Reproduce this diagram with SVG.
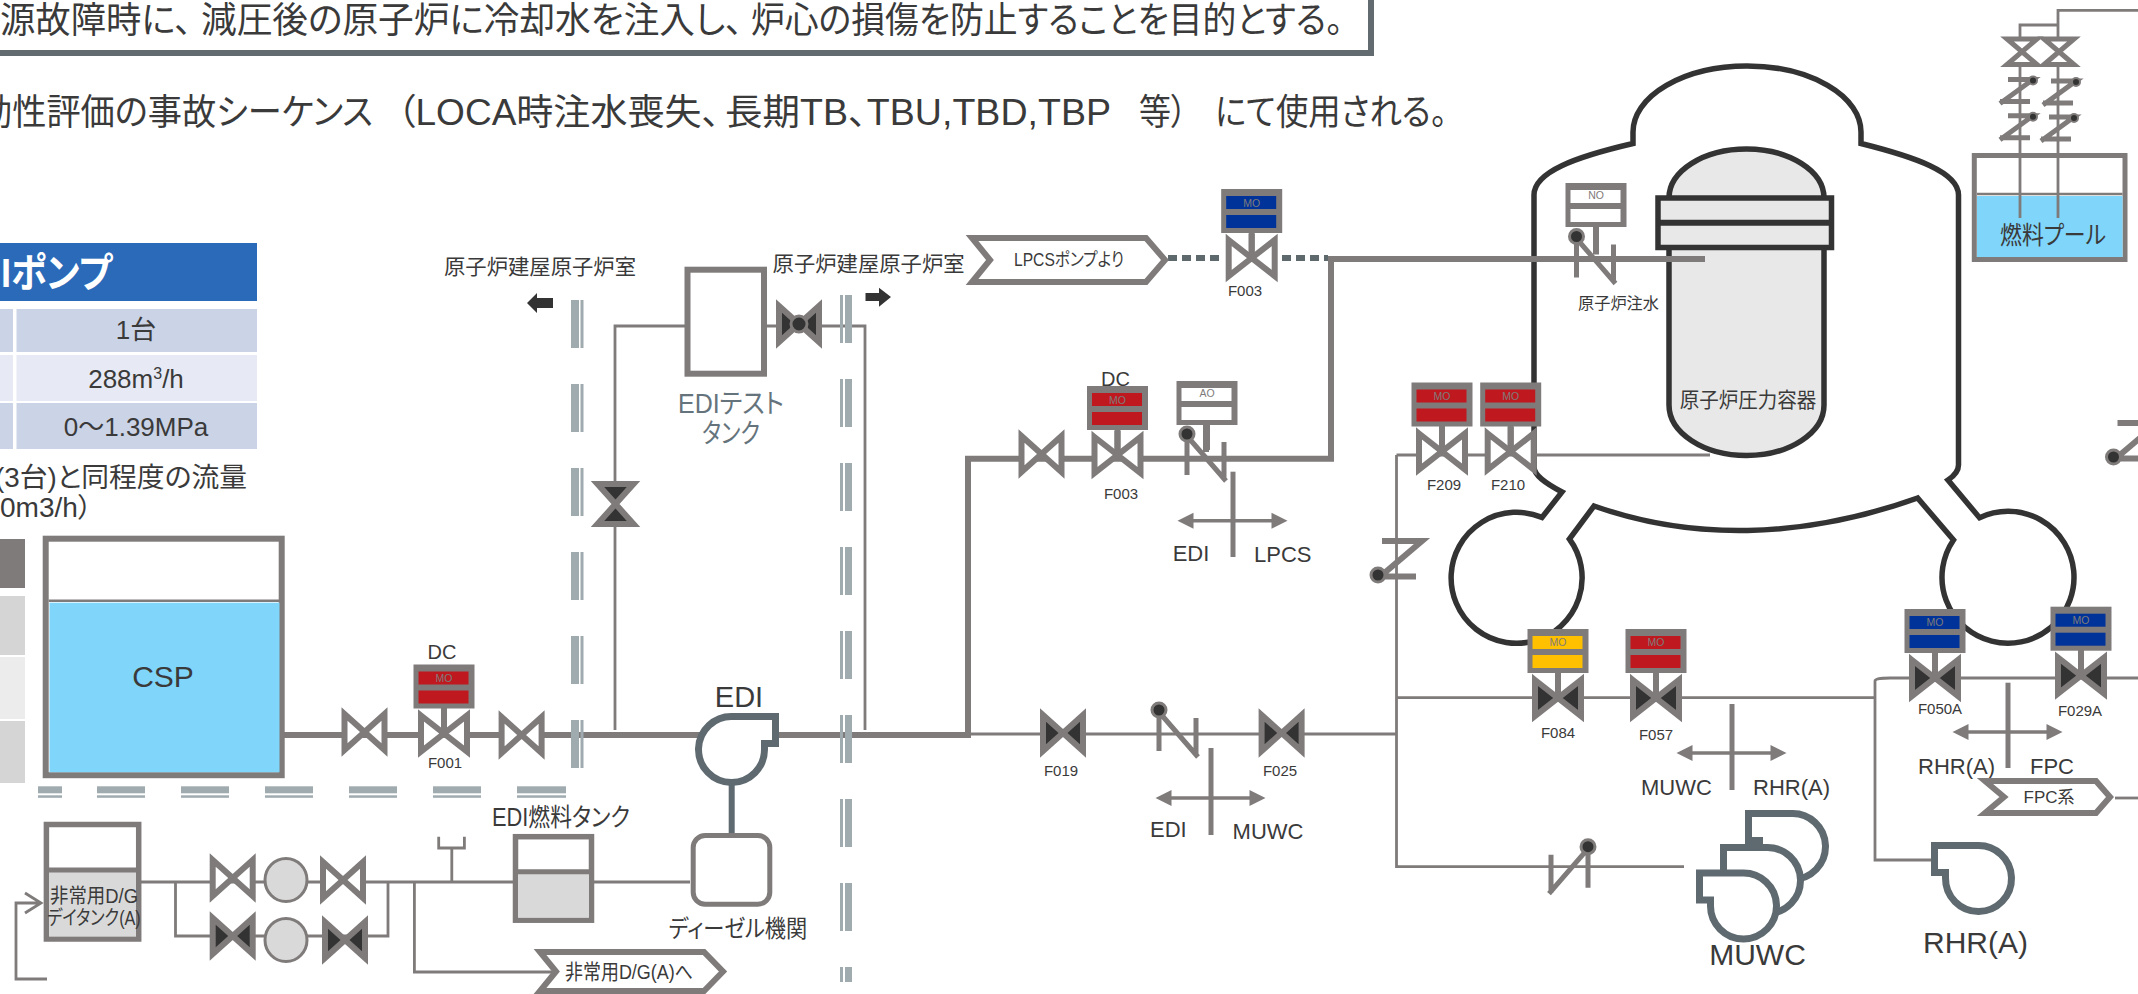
<svg xmlns="http://www.w3.org/2000/svg" width="2138" height="994" viewBox="0 0 2138 994">
<style>
text{font-family:"Liberation Sans","Noto Sans CJK JP",sans-serif;fill:#3a3a3a;font-feature-settings:"palt"}
.m{text-anchor:middle}
.p1{fill:none;stroke:#7f7b7a;stroke-width:6}
.p2{fill:none;stroke:#7f7b7a;stroke-width:2.8}
.tag{font-size:15px;text-anchor:middle}
.mo{font-size:10.5px;text-anchor:middle;fill:#7f7b7a}
.lab{font-size:22px}
.w{fill:#a0abb0}
.vw{fill:#fff;stroke:#7f7b7a;stroke-width:6}
.vd{fill:#333;stroke:#7f7b7a;stroke-width:6}
.pump{fill:#fff;stroke:#5e6a70;stroke-width:7}
.ves{stroke:#333;stroke-width:5.5}
.chev{fill:#fff;stroke:#7f7b7a;stroke-width:6}
.tank{fill:#fff;stroke:#7f7b7a;stroke-width:6}
.ck{fill:none;stroke:#7f7b7a;stroke-width:5}
.dot{fill:#333;stroke:#7f7b7a;stroke-width:3}
.arr{stroke:#7f7b7a;stroke-width:3.5;fill:none}
.arh{fill:#7f7b7a}
.bar{stroke:#7f7b7a;stroke-width:5}
</style>
<defs>
<path id="bowM" d="M-23,-18L23,18V-18L-23,18Z"/>
<path id="bowS" d="M-20,-18L20,18V-18L-20,18Z"/>
<g id="act"><rect x="-30.5" y="-69" width="61" height="44" fill="#7f7b7a"/><rect x="-25.5" y="-62" width="50" height="13"/><rect x="-25.5" y="-43" width="50" height="13"/><rect x="-3" y="-26" width="6" height="26" fill="#7f7b7a"/></g>
<path id="pumpR" d="M43.5,-32.5H1A33,33 0 1 0 32.5,0V-5.5H43.5Z"/>
<g id="nck"><path class="ck" d="M0,0V41M0,2L39,47M37,8V46"/><circle class="dot" cx="0" cy="0" r="7"/></g>
<g id="zv"><path class="ck" d="M4,-34H44L4,0M0,1.5H38" style="stroke-width:6"/><circle class="dot" cx="0" cy="0" r="7"/></g>
<g id="zs"><path class="ck" d="M-25,-1H0L-33,23M-33,21H-3" style="stroke-width:5"/><circle class="dot" cx="0" cy="0" r="4" style="stroke-width:2"/></g>
<path id="wv" class="w" d="M0,0h8v48h-8ZM9.5,0h3v48h-3Z"/>
<path id="wr" class="w" d="M0,0h3v48h-3ZM5,0h7v48h-7Z"/>
<path id="xh" class="arh" d="M-16,0L0,-8V8Z"/>
</defs>

<g id="header">
<rect x="-10" y="-10" width="1381" height="63" fill="#fff" stroke="#626b70" stroke-width="6"/>
<text y="33" font-size="36"><tspan x="0" textLength="192" lengthAdjust="spacingAndGlyphs">源故障時に、</tspan><tspan x="201" textLength="542" lengthAdjust="spacingAndGlyphs">減圧後の原子炉に冷却水を注入し、</tspan><tspan x="751" textLength="592" lengthAdjust="spacingAndGlyphs">炉心の損傷を防止することを目的とする。</tspan></text>
<text y="125" font-size="36"><tspan x="-22" textLength="395" lengthAdjust="spacingAndGlyphs">効性評価の事故シーケンス</tspan><tspan x="397" textLength="323" lengthAdjust="spacingAndGlyphs">（LOCA時注水喪失、</tspan><tspan x="725" textLength="386" lengthAdjust="spacingAndGlyphs">長期TB、TBU,TBD,TBP</tspan><tspan x="1139" textLength="48" lengthAdjust="spacingAndGlyphs">等）</tspan><tspan x="1215" textLength="232" lengthAdjust="spacingAndGlyphs">にて使用される。</tspan></text>
</g>

<g id="spec-table">
<rect x="0" y="243" width="257" height="58" fill="#2a6ab8"/>
<text x="1" y="287" font-size="40" font-weight="bold" style="fill:#fff" textLength="111" lengthAdjust="spacingAndGlyphs">Iポンプ</text>
<rect x="0" y="309" width="13" height="43" fill="#cbd3e6"/><rect x="16.5" y="309" width="240.5" height="43" fill="#cbd3e6"/>
<rect x="0" y="355" width="13" height="46" fill="#e7eaf4"/><rect x="16.5" y="355" width="240.5" height="46" fill="#e7eaf4"/>
<rect x="0" y="403" width="13" height="46" fill="#cbd3e6"/><rect x="16.5" y="403" width="240.5" height="46" fill="#cbd3e6"/>
<text x="136" y="339" font-size="26" class="m">1台</text>
<text x="136" y="388" font-size="26" class="m">288m<tspan font-size="16" dy="-9">3</tspan><tspan dy="9">/h</tspan></text>
<text x="136" y="436" font-size="26" class="m">0～1.39MPa</text>
<text x="-5" y="487" font-size="27" textLength="252" lengthAdjust="spacingAndGlyphs">(3台)と同程度の流量</text>
<text x="0" y="517" font-size="27" textLength="92" lengthAdjust="spacingAndGlyphs">0m3/h）</text>
<rect x="0" y="539" width="25" height="49" fill="#7f7b7a"/>
<rect x="0" y="596" width="25" height="59" fill="#d5d5d5"/>
<rect x="0" y="657" width="25" height="62" fill="#ececec"/>
<rect x="0" y="721" width="25" height="62" fill="#d5d5d5"/>
</g>

<g id="containment">
<path fill="#fff" class="ves" d="M1633,143.5V132A114,66 0 0 1 1861,132V143.5C1915,157 1958.5,172 1958.5,195V465C1958.5,472 1954,476 1948,480L1979.5,517.7A66,66 0 1 1 1953.5,540L1917.6,498C1800,540 1690,540 1594,506L1569.4,539A65.5,65.5 0 1 1 1542,517.4L1562,492C1545,483 1534,475 1534,467V195C1534,172 1575,157 1633,143.5Z"/>
<path fill="#e8e8e8" class="ves" d="M1669,198A77.5,49 0 0 1 1824,198V405A77.5,50.5 0 0 1 1669,405Z"/>
<rect x="1658" y="198" width="173.500" height="49.500" fill="#e8e8e8" stroke="#333" stroke-width="5.500"/>
<line x1="1658" y1="222.700" x2="1831" y2="222.700" stroke="#333" stroke-width="6"/>
<text x="1748" y="407" font-size="21" class="m" textLength="136.500" lengthAdjust="spacingAndGlyphs">原子炉圧力容器</text>
</g>

<g id="connectors">
<path class="p1" d="M284,735H968V458.700H1331V256"/>
<path class="p1" d="M1328,259H1705"/>
<path d="M1168,258H1222M1282,258H1328" fill="none" stroke="#5e696e" stroke-width="6" stroke-dasharray="9 5"/>
<path class="p2" d="M615,730V326H690M767,326H865V730"/>
<path class="p2" d="M968,734H1396.500M1396.500,455V866.700H1684M1396.500,697.700H1875M1396.500,455H1710"/>
<path class="p2" d="M1933,860H1875V681Q1875,678 1890,678H2138"/>
<path class="p2" d="M2115,798H2138"/>
<path class="p2" d="M141,882H690M175.500,882V936H388V882M414.400,882V972H552M451.800,882V848M438.700,836.700V848H464.400V836.700"/>
<path class="p2" d="M47,979H16V903H40M25,893L41,903L25,913"/>
<path class="p2" d="M2020,155V25H2058M2058,218V10.300H2138M2020,218V155"/>
<path d="M731.700,785V837" stroke="#5e6a70" stroke-width="6"/>
<path d="M1596,226V254.500M1206,425V452" stroke="#7f7b7a" stroke-width="6" fill="none"/>
</g>

<g id="walls">
<g id="wall-left"><use href="#wv" x="571" y="300"/><use href="#wv" x="571" y="384"/><use href="#wv" x="571" y="468"/><use href="#wv" x="571" y="552"/><use href="#wv" x="571" y="636"/><use href="#wv" x="571" y="720"/></g>
<g id="wall-right"><use href="#wr" x="840" y="295"/><use href="#wr" x="840" y="379"/><use href="#wr" x="840" y="463"/><use href="#wr" x="840" y="547"/><use href="#wr" x="840" y="631"/><use href="#wr" x="840" y="715"/><use href="#wr" x="840" y="799"/><use href="#wr" x="840" y="883"/><path class="w" d="M840,967h3v15h-3ZM845,967h7v15h-7Z"/></g>
<g id="wall-bottom" class="w"><rect x="38" y="786.300" width="24" height="7"/><rect x="38" y="795.300" width="24" height="2.500"/><rect x="97" y="786.300" width="48" height="7"/><rect x="97" y="795.300" width="48" height="2.500"/><rect x="181" y="786.300" width="48" height="7"/><rect x="181" y="795.300" width="48" height="2.500"/><rect x="265" y="786.300" width="48" height="7"/><rect x="265" y="795.300" width="48" height="2.500"/><rect x="349" y="786.300" width="48" height="7"/><rect x="349" y="795.300" width="48" height="2.500"/><rect x="433" y="786.300" width="48" height="7"/><rect x="433" y="795.300" width="48" height="2.500"/><rect x="517" y="786.300" width="49" height="7"/><rect x="517" y="795.300" width="49" height="2.500"/></g>
<path id="arrow-left" d="M527,303L537,293V298H553V308H537V313Z" fill="#333"/>
<path id="arrow-right" d="M891,297L879,287.700V293H865.500V301H879V306.700Z" fill="#333"/>
<text x="444" y="274" font-size="21" textLength="192" lengthAdjust="spacingAndGlyphs">原子炉建屋原子炉室</text>
<text x="772.600" y="271" font-size="21" textLength="192" lengthAdjust="spacingAndGlyphs">原子炉建屋原子炉室</text>
</g>

<g id="csp">
<rect x="45.700" y="538.700" width="236" height="236.500" class="tank"/>
<rect x="49.500" y="602.700" width="230" height="169.500" fill="#7fd5fa"/>
<line x1="48.700" y1="600.700" x2="279" y2="600.700" stroke="#7f7b7a" stroke-width="2.500"/>
<text x="163" y="687" font-size="30" class="m">CSP</text>
</g>

<g id="v-csp-1"><use href="#bowS" class="vw" transform="translate(364.500,732)"/></g>
<g id="v-f001"><use href="#act" fill="#c0181f" transform="translate(444,733.500)"/><use href="#bowM" class="vw" transform="translate(444,733.500)"/><path d="M444,709V733" stroke="#7f7b7a" stroke-width="6"/><text x="444" y="682" class="mo">MO</text><text x="442" y="659" font-size="20" class="m">DC</text><text x="445" y="768" class="tag">F001</text></g>
<g id="v-csp-2"><use href="#bowS" class="vw" transform="translate(521.600,735)"/></g>

<g id="edi-pump"><use href="#pumpR" class="pump" transform="translate(732,749)"/><text x="739" y="707" font-size="29" class="m">EDI</text></g>
<g id="diesel"><rect x="693.200" y="835.500" width="76.600" height="68.700" rx="12" fill="#fff" stroke="#7f7b7a" stroke-width="5"/><text x="738" y="937" font-size="24" class="m" textLength="138.500" lengthAdjust="spacingAndGlyphs">ディーゼル機関</text></g>

<g id="edi-test-tank"><rect x="687.500" y="269.700" width="76.500" height="104" class="tank"/><text x="731" y="413" font-size="27" class="m" style="fill:#65747c" textLength="106" lengthAdjust="spacingAndGlyphs">EDIテスト</text><text x="731" y="443" font-size="27" class="m" style="fill:#65747c" textLength="58" lengthAdjust="spacingAndGlyphs">タンク</text></g>
<g id="v-test-1"><use href="#bowS" class="vd" transform="translate(799,324)"/><circle cx="799" cy="324" r="8" class="dot"/></g>
<g id="v-test-2"><use href="#bowS" class="vd" transform="translate(615.500,504) rotate(90)"/></g>

<g id="day-tank"><rect x="46.400" y="824.500" width="92.300" height="114.500" fill="#fff" stroke="#7f7b7a" stroke-width="5.500"/><rect x="49" y="870" width="87" height="66.500" fill="#d9d9d9"/><line x1="46" y1="870" x2="139" y2="870" stroke="#7f7b7a" stroke-width="5"/><text x="94" y="903" font-size="20" class="m" textLength="88" lengthAdjust="spacingAndGlyphs">非常用D/G</text><text x="94" y="925" font-size="20" class="m" textLength="93.500" lengthAdjust="spacingAndGlyphs">デイタンク(A)</text></g>
<g id="fo-line-1"><use href="#bowS" class="vw" transform="translate(232.700,878)"/><ellipse cx="286" cy="880" rx="21" ry="21.500" fill="#d9d9d9" stroke="#7f7b7a" stroke-width="3"/><use href="#bowS" class="vw" transform="translate(343,880)"/></g>
<g id="fo-line-2"><use href="#bowS" class="vd" transform="translate(232.700,936)"/><ellipse cx="286" cy="940" rx="21" ry="21.500" fill="#d9d9d9" stroke="#7f7b7a" stroke-width="3"/><use href="#bowS" class="vd" transform="translate(345,940)"/></g>
<g id="fuel-tank"><rect x="515.500" y="836.700" width="76" height="83.500" fill="#fff" stroke="#7f7b7a" stroke-width="5.500"/><rect x="518" y="871.700" width="71" height="46" fill="#d9d9d9"/><line x1="515" y1="871.700" x2="592" y2="871.700" stroke="#7f7b7a" stroke-width="5"/><text x="561" y="826" font-size="25" class="m" textLength="138" lengthAdjust="spacingAndGlyphs">EDI燃料タンク</text></g>
<g id="to-dg"><path class="chev" d="M540,952H704L723,971.500L704,991H540L556,971.500Z"/><text x="629" y="979" font-size="21" class="m" textLength="128" lengthAdjust="spacingAndGlyphs">非常用D/G(A)へ</text></g>

<g id="from-lpcs"><path class="chev" d="M972,238H1146L1165,260L1146,282H972L990,260Z"/><text x="1069" y="266" font-size="18" class="m" textLength="110" lengthAdjust="spacingAndGlyphs">LPCSポンプより</text></g>
<g id="v-f003-top"><use href="#act" fill="#003399" transform="translate(1251.700,258)"/><use href="#bowM" class="vw" transform="translate(1251.700,258)"/><path d="M1251.700,234V258" stroke="#7f7b7a" stroke-width="6"/><text x="1251.700" y="207" class="mo">MO</text><text x="1245" y="296" class="tag">F003</text></g>
<g id="v-lpcs-1"><use href="#bowS" class="vw" transform="translate(1041.500,454)"/></g>
<g id="v-f003"><use href="#act" fill="#c0181f" transform="translate(1117.500,455)"/><use href="#bowM" class="vw" transform="translate(1117.500,455)"/><path d="M1117.500,431V455" stroke="#7f7b7a" stroke-width="6"/><text x="1117.500" y="404" class="mo">MO</text><text x="1115.500" y="386" font-size="20" class="m">DC</text><text x="1121" y="499" class="tag">F003</text></g>
<g id="v-ao"><use href="#act" fill="#fff" transform="translate(1207,450)"/><text x="1207" y="397" class="mo">AO</text><use href="#nck" transform="translate(1187,434)"/></g>
<g id="cross-lpcs"><line x1="1233" y1="471.700" x2="1233" y2="557" class="bar"/><path class="arr" d="M1190,520.700H1275"/><use href="#xh" transform="translate(1193.500,520.700)"/><use href="#xh" transform="translate(1271.500,520.700) scale(-1,1)"/><text x="1172.700" y="561" class="lab">EDI</text><text x="1254" y="561.500" class="lab">LPCS</text></g>

<g id="v-no"><use href="#act" fill="#fff" transform="translate(1596,252)"/><text x="1596" y="199" class="mo">NO</text><use href="#nck" transform="translate(1576.500,236.500)"/><text x="1618.500" y="309" font-size="16" class="m" textLength="81" lengthAdjust="spacingAndGlyphs">原子炉注水</text></g>
<g id="v-f209"><use href="#act" fill="#c0181f" transform="translate(1442,451.500)"/><use href="#bowM" class="vw" transform="translate(1442,451.500)"/><path d="M1442,427V451" stroke="#7f7b7a" stroke-width="6"/><text x="1442" y="400" class="mo">MO</text><text x="1444" y="490" class="tag">F209</text></g>
<g id="v-f210"><use href="#act" fill="#c0181f" transform="translate(1510.700,451.500)"/><use href="#bowM" class="vw" transform="translate(1510.700,451.500)"/><path d="M1510.700,427V451" stroke="#7f7b7a" stroke-width="6"/><text x="1510.700" y="400" class="mo">MO</text><text x="1508" y="490" class="tag">F210</text></g>
<g id="z-main"><use href="#zv" transform="translate(1378,575)"/></g>
<g id="z-right"><use href="#zv" transform="translate(2113.500,457)"/></g>

<g id="v-f019"><use href="#bowS" class="vd" transform="translate(1063,733)"/><text x="1061" y="776" class="tag">F019</text></g>
<g id="ck-edi"><use href="#nck" transform="translate(1159,710)"/></g>
<g id="v-f025"><use href="#bowS" class="vd" transform="translate(1281.600,733)"/><text x="1280" y="776" class="tag">F025</text></g>
<g id="cross-muwc"><line x1="1211" y1="748" x2="1211" y2="835" class="bar"/><path class="arr" d="M1168,798H1253"/><use href="#xh" transform="translate(1171.500,798)"/><use href="#xh" transform="translate(1249.500,798) scale(-1,1)"/><text x="1150" y="837" class="lab">EDI</text><text x="1232.600" y="838.500" class="lab">MUWC</text></g>

<g id="v-f084"><use href="#act" fill="#ffc000" transform="translate(1558,698)"/><use href="#bowM" class="vd" transform="translate(1558,698)"/><path d="M1558,674V698" stroke="#7f7b7a" stroke-width="6"/><text x="1558" y="646" class="mo">MO</text><text x="1558" y="738" class="tag">F084</text></g>
<g id="v-f057"><use href="#act" fill="#c0181f" transform="translate(1656,698)"/><use href="#bowM" class="vd" transform="translate(1656,698)"/><path d="M1656,674V698" stroke="#7f7b7a" stroke-width="6"/><text x="1656" y="646" class="mo">MO</text><text x="1656" y="739.500" class="tag">F057</text></g>
<g id="cross-rhr"><line x1="1732" y1="704" x2="1732" y2="790" class="bar"/><path class="arr" d="M1689,753H1774"/><use href="#xh" transform="translate(1692.500,753)"/><use href="#xh" transform="translate(1770.500,753) scale(-1,1)"/><text x="1641" y="795" class="lab">MUWC</text><text x="1753" y="795" class="lab">RHR(A)</text></g>

<g id="v-f050a"><use href="#act" fill="#003399" transform="translate(1935,678)"/><use href="#bowM" class="vd" transform="translate(1935,678)"/><path d="M1935,653V678" stroke="#7f7b7a" stroke-width="6"/><text x="1935" y="626" class="mo">MO</text><text x="1940" y="714" class="tag">F050A</text></g>
<g id="v-f029a"><use href="#act" fill="#003399" transform="translate(2081,675.700)"/><use href="#bowM" class="vd" transform="translate(2081,675.700)"/><path d="M2081,651V676" stroke="#7f7b7a" stroke-width="6"/><text x="2081" y="624" class="mo">MO</text><text x="2080" y="716" class="tag">F029A</text></g>
<g id="cross-fpc"><line x1="2008" y1="682.700" x2="2008" y2="768" class="bar"/><path class="arr" d="M1965,732H2050"/><use href="#xh" transform="translate(1968.500,732)"/><use href="#xh" transform="translate(2046.500,732) scale(-1,1)"/><text x="1918" y="774" class="lab">RHR(A)</text><text x="2030" y="774" class="lab">FPC</text></g>
<g id="to-fpc"><path class="chev" d="M1985,781H2096L2110,797L2096,813H1985L2004,797Z"/><text x="2049" y="803" font-size="17" class="m">FPC系</text></g>

<g id="ck-muwc"><use href="#nck" transform="translate(1588,846.700) scale(-1,1)"/></g>
<g id="muwc-pumps"><use href="#pumpR" class="pump" transform="translate(1792,846) scale(-1,1)"/><use href="#pumpR" class="pump" transform="translate(1767,880) scale(-1,1)"/><use href="#pumpR" class="pump" transform="translate(1743,905.500) scale(-1,1)"/><text x="1757.500" y="965" font-size="30" class="m">MUWC</text></g>
<g id="rhr-pump"><use href="#pumpR" class="pump" transform="translate(1978,878) scale(-1,1)"/><text x="1975.500" y="953" font-size="30" class="m">RHR(A)</text></g>

<g id="fuel-pool">
<rect x="1974.300" y="155.500" width="150.700" height="104" fill="#fff" stroke="#7f7b7a" stroke-width="5"/>
<rect x="1977" y="196" width="145.500" height="61" fill="#7fd5fa"/>
<line x1="1977" y1="194" x2="2122.500" y2="194" stroke="#7f7b7a" stroke-width="2.500"/>
<path class="p2" d="M2020,158V218M2058,158V218"/>
<text x="2053" y="244" font-size="25" class="m" textLength="106" lengthAdjust="spacingAndGlyphs">燃料プール</text>
<path class="vw" style="stroke-width:5" d="M2007,39H2037L2007,64.500H2037Z"/>
<path class="vw" style="stroke-width:5" d="M2044,39H2074L2044,64.500H2074Z"/>
<use href="#zs" transform="translate(2033,80.400)"/>
<use href="#zs" transform="translate(2076,82)"/>
<use href="#zs" transform="translate(2033,116.700)"/>
<use href="#zs" transform="translate(2074,118)"/>
</g>
</svg>
